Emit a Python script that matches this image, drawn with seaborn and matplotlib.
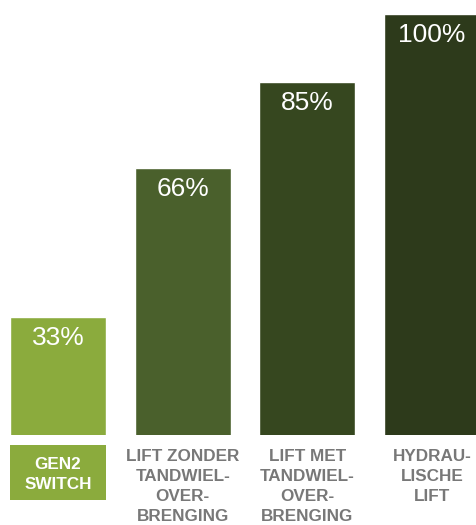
import matplotlib
matplotlib.use("Agg")
import matplotlib.pyplot as plt
import matplotlib.transforms as mtransforms
from matplotlib.patches import Rectangle
import seaborn as sns

categories = ["GEN2\nSWITCH", "LIFT ZONDER\nTANDWIEL-\nOVER-\nBRENGING",
              "LIFT MET\nTANDWIEL-\nOVER-\nBRENGING", "HYDRAU-\nLISCHE\nLIFT"]
values = [33, 66, 85, 100]
value_labels = ["33%", "66%", "85%", "100%"]
colors = ["#8bab3d", "#4a602c", "#36471f", "#2d3a1b"]

sns.set_theme(style="white")
plt.rcParams["font.family"] = ["Liberation Sans", "DejaVu Sans"]

fig = plt.figure(figsize=(4.76, 5.25), dpi=100)
ax = fig.add_axes([0, 90 / 525, 1, 421 / 525])

keys = [f"c{i}" for i in range(len(categories))]
sns.barplot(x=keys, y=values, hue=keys, palette=colors, width=0.77,
            saturation=1, legend=False, ax=ax)

ax.set_xlim(-0.465, 3.353)
ax.set_ylim(7, 100)
ax.set_yticks([])
ax.set_xlabel("")
ax.set_ylabel("")
for s in ax.spines.values():
    s.set_visible(False)

ax.set_xticks(range(len(categories)))
ax.set_xticklabels(categories)
ax.tick_params(axis="x", length=0, pad=10)
ax.xaxis.get_major_ticks()[0].set_pad(15.5)
ax.xaxis.set_zorder(3)
for i, lab in enumerate(ax.get_xticklabels()):
    lab.set_fontsize(12.3)
    lab.set_fontweight("bold")
    lab.set_linespacing(1.42)
    lab.set_color("white" if i == 0 else "#787878")
    lab.set_zorder(3)

# green box behind first label
trans = mtransforms.blended_transform_factory(ax.transData, fig.transFigure)
ax.add_patch(Rectangle((-0.385, (525 - 500) / 525), 0.77, 55 / 525,
                       transform=trans, facecolor=colors[0], edgecolor="none",
                       clip_on=False, zorder=0.2))

for i, (v, t) in enumerate(zip(values, value_labels)):
    ax.annotate(t, (i, v), xytext=(0, -9), textcoords="offset pixels",
                ha="center", va="top", color="white", fontsize=19)

fig.savefig("out.png", dpi=100)
